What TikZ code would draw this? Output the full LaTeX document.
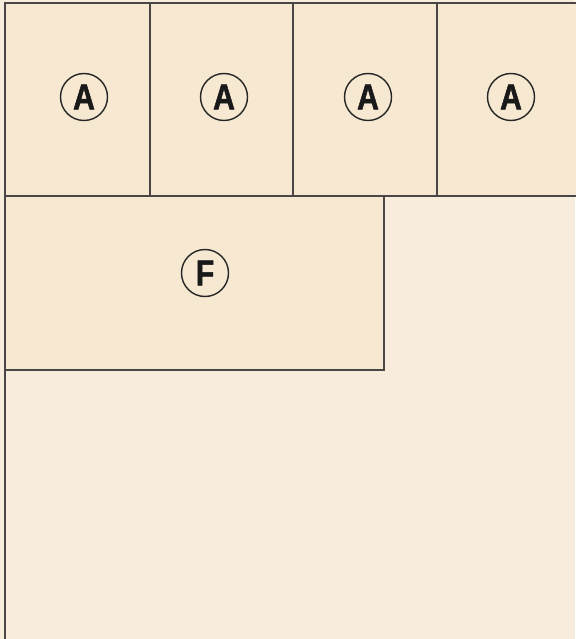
\documentclass[tikz,border=0pt]{standalone}
\usepackage{fontspec}
\setmainfont{Liberation Sans}
\newfontfamily\tagfont[FakeBold=1.5]{Liberation Sans Bold}
\newcommand{\tagtxt}[1]{{\tagfont\fontsize{36}{36}\selectfont\raisebox{-1pt}{\scalebox{0.84}[1]{#1}}}}
\definecolor{bgc}{HTML}{F8ECDC}
\definecolor{boxc}{HTML}{F7E8D1}
\definecolor{linec}{HTML}{4A4646}
\begin{document}
\begin{tikzpicture}[x=1pt,y=-1pt,
  room/.style={draw=linec,fill=boxc,line width=1.2pt},
  tag/.style={circle,draw=black!85,line width=1.4pt,minimum size=47pt,inner sep=0pt,text=black!90}]
\fill[bgc] (0,0) rectangle (575,639);
\useasboundingbox (0,0) rectangle (575,639);
\draw[linec,line width=1.2pt] (5,639) -- (5,3) -- (575,3);
\draw[room] (5,3) rectangle (150,196);
\draw[room] (150,3) rectangle (293,196);
\draw[room] (293,3) rectangle (437,196);
\draw[room] (437,3) rectangle (578,196);
\draw[room] (5,196) rectangle (384,370);
\node[tag] (a1) at (84,97) {\tagtxt{A}};
\node[tag] (a2) at (224,97) {\tagtxt{A}};
\node[tag] (a3) at (368,97) {\tagtxt{A}};
\node[tag] (a4) at (511,97) {\tagtxt{A}};
\node[tag] (f) at (205,273) {\tagtxt{F}};
\end{tikzpicture}
\end{document}
